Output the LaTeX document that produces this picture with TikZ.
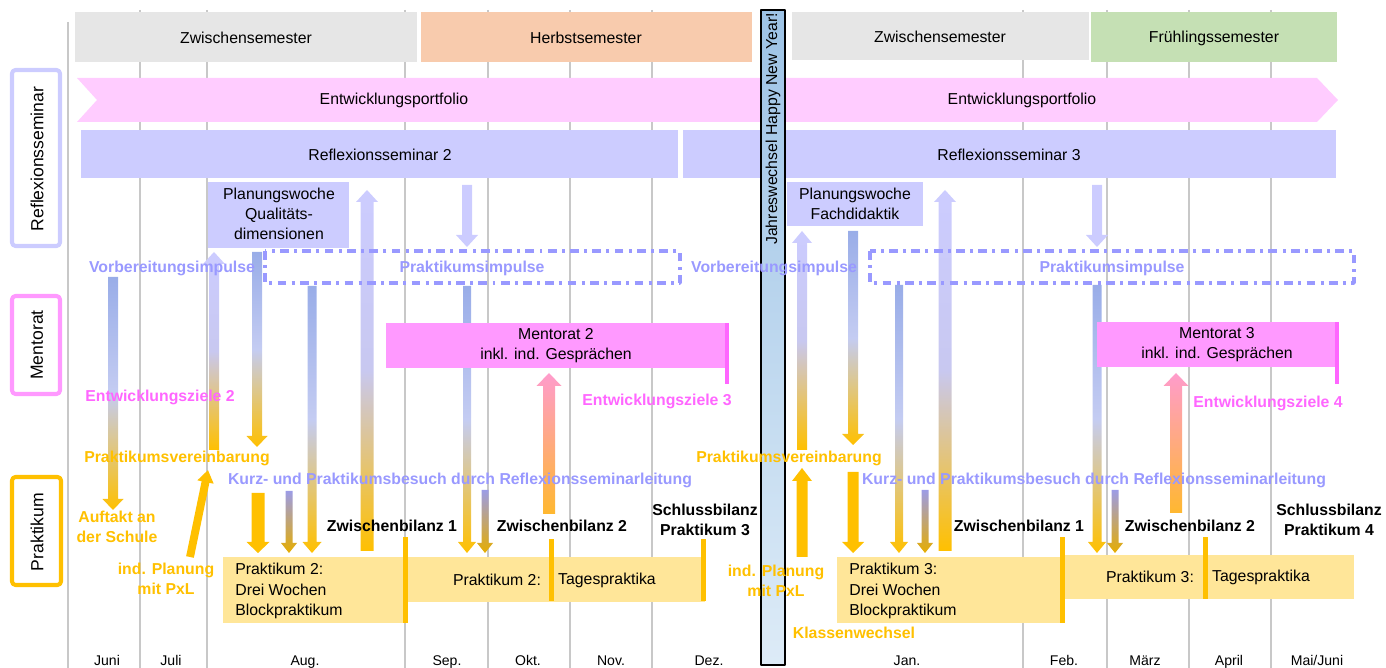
\documentclass[tikz,border=0pt]{standalone}
\usepackage{fontspec}
\setmainfont{Liberation Sans}
\usetikzlibrary{arrows.meta}

\definecolor{gridgray}{HTML}{C8C8C8}
\definecolor{semgray}{HTML}{E6E6E6}
\definecolor{herbst}{HTML}{F8CBAD}
\definecolor{fruehling}{HTML}{C5E0B4}
\definecolor{portfolio}{HTML}{FFCCFF}
\definecolor{reflex}{HTML}{CCCCFF}
\definecolor{mentor}{HTML}{FF99FF}
\definecolor{mentordark}{HTML}{FF66FF}
\definecolor{gold}{HTML}{FFC000}
\definecolor{praktfill}{HTML}{FFE699}
\definecolor{impulse}{HTML}{9999FF}
\definecolor{arrblue}{HTML}{99ADE8}
\definecolor{arrlight}{HTML}{C4CCF2}
\definecolor{arrpurple}{HTML}{9C9CE6}
\definecolor{lavmid}{HTML}{C8C8F0}
\definecolor{pinktop}{HTML}{FF9CCC}
\definecolor{pinkbot}{HTML}{FFB830}
\definecolor{newyeartop}{HTML}{9DC3E6}
\definecolor{newyearbot}{HTML}{DDEBF7}

% block arrows: x, top, tip, shaft, head, head length, style
\newcommand{\blockdown}[7]{\path[#7] (#1-#4/2,#2) -- (#1+#4/2,#2) -- (#1+#4/2,#3-#6) -- (#1+#5/2,#3-#6) -- (#1,#3) -- (#1-#5/2,#3-#6) -- (#1-#4/2,#3-#6) -- cycle;}
% x, tip, bottom, shaft, head, head length, style
\newcommand{\blockup}[7]{\path[#7] (#1-#4/2,#3) -- (#1-#4/2,#2+#6) -- (#1-#5/2,#2+#6) -- (#1,#2) -- (#1+#5/2,#2+#6) -- (#1+#4/2,#2+#6) -- (#1+#4/2,#3) -- cycle;}

\begin{document}
\begin{tikzpicture}[x=0.02cm, y=-0.02cm, line join=round,
  font=\fontsize{9}{11.5}\selectfont,
  txt/.style={inner sep=0pt, align=center},
  bold/.style={txt, font=\fontsize{9}{11.5}\selectfont\bfseries},
  side/.style={txt, rotate=90, font=\fontsize{10}{12}\selectfont},
  month/.style={txt, anchor=base, font=\fontsize{8}{9.6}\selectfont},
  frame/.style={line width=2.3pt, rounded corners=2pt},
  impframe/.style={impulse, line width=2pt, dash pattern=on 5pt off 3pt on 1.7pt off 3pt},
  bluegold/.style={top color=arrblue, bottom color=gold, middle color=arrlight},
  lavgold/.style={top color=reflex, bottom color=gold, middle color=lavmid},
  purplegold/.style={top color=arrpurple, bottom color=gold!90!black},
  pinkorange/.style={top color=pinktop, bottom color=pinkbot},
  goldsolid/.style={fill=gold},
  lavsolid/.style={fill=reflex}]

\useasboundingbox (0,0) rectangle (1386,668);

% Month grid
\draw[gridgray, line width=0.6pt] (68,22) -- (68,668);
\foreach \gx in {140,207,405,488,570,652,1023,1107,1189,1271}
  \draw[gridgray, line width=0.6pt] (\gx,10) -- (\gx,668);

% Semesters
\fill[semgray] (75,12) rectangle (417,62);
\fill[herbst] (421,12) rectangle (752,62);
\fill[semgray] (792,12) rectangle (1089,60);
\fill[fruehling] (1091,12) rectangle (1337,62);

% Portfolio banner
\fill[portfolio] (77,78) -- (1317,78) -- (1338,100) -- (1317,122) -- (77,122) -- (97,100) -- cycle;

% Reflexionsseminare
\fill[reflex] (81,130) rectangle (678,178);
\fill[reflex] (683,130) rectangle (1336,178);

% Planungswochen
\fill[reflex] (208,182) rectangle (349,248);
\fill[reflex] (787,182) rectangle (923,226);

% Category frames
\draw[reflex, frame] (12,70) rectangle (60,246);
\draw[mentor, frame] (12,296) rectangle (60,394);
\draw[gold, frame] (12,477) rectangle (61,585);

% Arrows (first half)
\blockdown{113}{277}{510}{10}{21}{11}{bluegold}
\blockup{214}{252}{450}{10}{22}{12}{lavgold}
\blockdown{257}{252}{447}{10}{21}{11}{bluegold}
\blockdown{312}{286}{553}{9}{19}{11}{bluegold}
\blockup{367}{190}{551}{13}{22}{12}{lavgold}
\blockdown{289}{491}{553}{7}{16}{10}{purplegold}
\blockdown{258}{493}{553}{13}{23}{11}{goldsolid}
\draw[gold, line width=4.5pt, -{Triangle[length=7pt, width=9pt]}] (190,557) -- (208,470);
\blockdown{467}{185}{247}{10}{22}{12}{lavsolid}
\blockdown{467}{286}{553}{8}{18}{11}{bluegold}
\blockdown{485}{490}{553}{7}{16}{10}{purplegold}
\blockup{549}{373}{514}{12}{25}{13}{pinkorange}

% Arrows (second half)
\blockup{802}{231}{450}{10}{20}{12}{lavgold}
\blockup{802}{468}{557}{11}{20}{13}{goldsolid}
\blockdown{853}{231}{445}{10}{22}{11}{bluegold}
\blockdown{853}{472}{553}{11}{22}{11}{goldsolid}
\blockdown{899}{285}{553}{8}{18}{11}{bluegold}
\blockdown{925}{490}{553}{7}{16}{10}{purplegold}
\blockup{945}{190}{551}{13}{22}{12}{lavgold}
\blockdown{1097}{185}{247}{10}{22}{12}{lavsolid}
\blockdown{1097}{285}{553}{9}{18}{11}{bluegold}
\blockdown{1115}{490}{553}{7}{16}{10}{purplegold}
\blockup{1176}{373}{513}{12}{25}{13}{pinkorange}

% Praktikumsimpulse frames
\draw[impframe] (265,251) rectangle (680,283);
\draw[impframe] (870,251) rectangle (1354,283);

% Mentorate
\fill[mentor] (386,323) rectangle (727,368);
\fill[mentordark] (725,323) rectangle (729,384);
\fill[mentor] (1097,322) rectangle (1336,367);
\fill[mentordark] (1335,322) rectangle (1339,384);

% Praktika
\fill[praktfill] (223,557) rectangle (405,623);
\fill[praktfill] (405,557) rectangle (705,602);
\fill[praktfill] (837,557) rectangle (1063,623);
\fill[praktfill] (1063,555) rectangle (1354,599);
\fill[gold] (403,537) rectangle (408,623);
\fill[gold] (549,539) rectangle (554,601);
\fill[gold] (701,539) rectangle (706,601);
\fill[gold] (1060,537) rectangle (1065,623);
\fill[gold] (1203,537) rectangle (1208,599);

% Jahreswechsel
\path[top color=newyeartop, bottom color=newyearbot, draw=black, line width=0.8pt] (761,10) rectangle (785,665);
\node[txt, rotate=90] (newyear) at (773,129) {Jahreswechsel Happy New Year!};

% Labels
\node[txt] (zwA) at (246,38) {Zwischensemester};
\node[txt] (herbst) at (586,38) {Herbstsemester};
\node[txt] (zwB) at (940,37) {Zwischensemester};
\node[txt] (fruehling) at (1214,38) {Frühlingssemester};
\node[txt] (portA) at (394,100) {Entwicklungsportfolio};
\node[txt] (portB) at (1022,100) {Entwicklungsportfolio};
\node[txt] (rsA) at (380,155) {Reflexionsseminar 2};
\node[txt] (rsB) at (1009,155) {Reflexionsseminar 3};
\node[txt] (pwA) at (279,214) {Planungswoche\\Qualitäts-\\dimensionen};
\node[txt] (pwB) at (855,204) {Planungswoche\\Fachdidaktik};
\node[side] (catR) at (37,159) {Reflexionsseminar};
\node[side] (catM) at (37,345) {Mentorat};
\node[side] (catP) at (37,532) {Praktikum};

\node[bold, impulse] (vorA) at (172,268) {Vorbereitungsimpulse};
\node[bold, impulse] (vorB) at (774,268) {Vorbereitungsimpulse};
\node[bold, impulse] (impA) at (472,268) {Praktikumsimpulse};
\node[bold, impulse] (impB) at (1112,268) {Praktikumsimpulse};
\node[txt] (mentA) at (556,346) {Mentorat 2\\inkl. ind. Gesprächen};
\node[txt] (mentB) at (1217,345) {Mentorat 3\\inkl. ind. Gesprächen};
\node[bold, mentordark] (zielA) at (160,397) {Entwicklungsziele 2};
\node[bold, mentordark] (zielB) at (657,401) {Entwicklungsziele 3};
\node[bold, mentordark] (zielC) at (1268,403) {Entwicklungsziele 4};

\node[bold, gold] (verA) at (177,458) {Praktikumsvereinbarung};
\node[bold, gold] (verB) at (789,458) {Praktikumsvereinbarung};
\node[bold, impulse] (besA) at (460,480) {Kurz- und Praktikumsbesuch durch Reflexionsseminarleitung};
\node[bold, impulse] (besB) at (1094,480) {Kurz- und Praktikumsbesuch durch Reflexionsseminarleitung};
\node[bold, gold] (auftakt) at (117,527) {Auftakt an\\der Schule};
\node[bold, gold] (planA) at (166,579) {ind. Planung\\mit PxL};
\node[bold, gold] (planB) at (776,581) {ind. Planung\\mit PxL};
\node[bold, gold] (klasse) at (854,633) {Klassenwechsel};

\node[bold] (zbA) at (392,526) {Zwischenbilanz 1};
\node[bold] (zbB) at (562,526) {Zwischenbilanz 2};
\node[bold] (sbA) at (705,520) {Schlussbilanz\\Praktikum 3};
\node[bold] (zbC) at (1019,526) {Zwischenbilanz 1};
\node[bold] (zbD) at (1190,526) {Zwischenbilanz 2};
\node[bold] (sbB) at (1329,520) {Schlussbilanz\\Praktikum 4};

\node[txt, anchor=west, align=left] (pkA) at (235,591) {Praktikum 2:\\Drei Wochen\\Blockpraktikum};
\node[txt] (pkB) at (497,580) {Praktikum 2:};
\node[txt] (tagA) at (607,580) {Tagespraktika};
\node[txt, anchor=west, align=left] (pkC) at (849,591) {Praktikum 3:\\Drei Wochen\\Blockpraktikum};
\node[txt] (pkD) at (1150,577) {Praktikum 3:};
\node[txt] (tagB) at (1261,577) {Tagespraktika};

% Months
\foreach \mx/\mname/\mid in {107/Juni/jun, 171/Juli/jul, 305/Aug./aug, 447/Sep./sep, 528/Okt./okt, 611/Nov./nov, 709/Dez./dez, 907/Jan./jan, 1064/Feb./feb, 1145/März/mrz, 1229/April/apr, 1317/{Mai/Juni}/mai}
  \node[month] (m\mid) at (\mx,665) {\mname};

\end{tikzpicture}
\end{document}
